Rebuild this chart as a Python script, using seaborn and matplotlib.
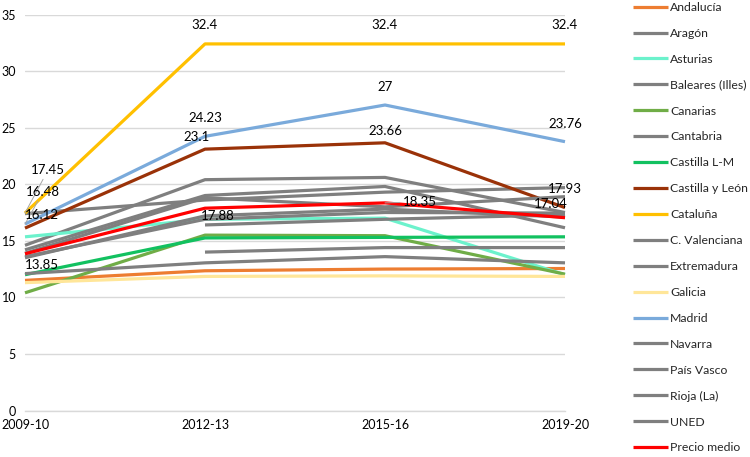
import numpy as np
import pandas as pd
import matplotlib
matplotlib.use("Agg")
import matplotlib.pyplot as plt
import seaborn as sns

periods = ["2009-10", "2012-13", "2015-16", "2019-20"]

andalucia = [11.5, 12.35, 12.5, 12.55]
aragon = [14.6, 20.4, 20.6, 17.5]
asturias = [15.35, 16.9, 17.0, 12.0]
baleares = [17.4, 18.6, 19.3, 19.7]
canarias = [10.4, 15.5, 15.45, 12.05]
cantabria = [14.2, 19.0, 19.8, 16.15]
castilla_lm = [12.0, 15.25, 15.3, 15.35]
castilla_leon = [16.12, 23.1, 23.66, 17.93]
cataluna = [17.45, 32.4, 32.4, 32.4]
c_valenciana = [13.9, 18.8, 18.0, 18.9]
extremadura = [12.1, 13.05, 13.6, 13.05]
galicia = [11.3, 11.85, 11.9, 11.85]
madrid = [16.48, 24.23, 27.0, 23.76]
navarra = [13.5, 17.2, 17.8, 17.1]
pais_vasco = [np.nan, 16.4, 16.9, 17.3]
rioja = [np.nan, 14.0, 14.4, 14.4]
uned = [13.6, 16.9, 17.5, 17.45]
precio_medio = [13.85, 17.88, 18.35, 17.04]

names = ["Andalucía", "Aragón", "Asturias", "Baleares (Illes)", "Canarias",
         "Cantabria", "Castilla L-M", "Castilla y León", "Cataluña",
         "C. Valenciana", "Extremadura", "Galicia", "Madrid", "Navarra",
         "País Vasco", "Rioja (La)", "UNED", "Precio medio"]
series = [andalucia, aragon, asturias, baleares, canarias, cantabria,
          castilla_lm, castilla_leon, cataluna, c_valenciana, extremadura,
          galicia, madrid, navarra, pais_vasco, rioja, uned, precio_medio]

GRAY = "#7f7f7f"
colors = ["#ED7D31", GRAY, "#6CF2CC", GRAY, "#70AD47", GRAY, "#12C160",
          "#9A3208", "#FFC000", GRAY, GRAY, "#FFE699", "#7AAADB", GRAY,
          GRAY, GRAY, GRAY, "#FF0000"]
palette = dict(zip(names, colors))

rows = []
for n, vals in zip(names, series):
    for i, v in enumerate(vals):
        rows.append({"region": n, "x": i, "periodo": periods[i], "valor": v})
df = pd.DataFrame(rows).dropna()

sns.set_theme(style="white")
plt.rcParams["font.family"] = ["Lato", "DejaVu Sans"]

fig = plt.figure(figsize=(7.5, 4.57), dpi=100)
ax = fig.add_axes([25/750, 1-410.5/457, 540/750, 396/457])

sns.lineplot(data=df, x="x", y="valor", hue="region", hue_order=names,
             palette=palette, estimator=None, sort=True, linewidth=2.3,
             ax=ax, legend=True)
for ln in ax.lines:
    ln.set_clip_on(False)
    ln.set_solid_capstyle("butt")

ax.set_xlim(0, 3)
ax.set_ylim(0, 35)
ax.set_yticks(range(0, 36, 5))
ax.set_xticks(range(4))
ax.set_xticklabels(periods)
ax.set_xticks([0.5, 1.5, 2.5], minor=True)
ax.set_xlabel("")
ax.set_ylabel("")
ax.yaxis.grid(True, color="#d9d9d9", linewidth=1.0)
ax.set_axisbelow(True)
for s in ["top", "right", "left"]:
    ax.spines[s].set_visible(False)
ax.spines["bottom"].set_color("#d9d9d9")
ax.spines["bottom"].set_linewidth(1.0)
ax.tick_params(axis="y", length=0, pad=6.5, labelsize=9, labelcolor="#000000")
ax.tick_params(axis="x", which="both", length=4, color="#d9d9d9", width=1,
               direction="out", pad=2, labelsize=9, labelcolor="#000000")

handles, labels = ax.get_legend_handles_labels()
ax.get_legend().remove()
leg = fig.legend(handles, labels, loc="upper left",
                 bbox_to_anchor=(628/750, 1.0 + 3/457), frameon=False,
                 fontsize=8.8, labelspacing=1.22, handlelength=2.85,
                 handletextpad=0.2, borderaxespad=0)
for h in leg.legend_handles:
    h.set_linewidth(2.3)

lab_kw = dict(textcoords="offset pixels", fontsize=9.5, ha="center",
              va="center", color="#000000")
lead = dict(arrowstyle="-", color="#a6a6a6", lw=0.7, shrinkA=0, shrinkB=0)

# Cataluña
ax.annotate(f"{cataluna[0]:g}", (0, cataluna[0]), xytext=(23, 43),
            arrowprops=lead, **lab_kw)
for i in (1, 2, 3):
    ax.annotate(f"{cataluna[i]:g}", (i, cataluna[i]), xytext=(0, 19), **lab_kw)
# Madrid
ax.annotate(f"{madrid[0]:g}", (0, madrid[0]), xytext=(18, 32),
            arrowprops=lead, **lab_kw)
for i in (1, 2, 3):
    ax.annotate(f"{madrid[i]:g}", (i, madrid[i]), xytext=(0, 18), **lab_kw)
# Castilla y León
ax.annotate(f"{castilla_leon[0]:g}", (0, castilla_leon[0]), xytext=(17, 13),
            **lab_kw)
ax.annotate(f"{castilla_leon[1]:g}", (1, castilla_leon[1]), xytext=(-8, 12), **lab_kw)
ax.annotate(f"{castilla_leon[2]:g}", (2, castilla_leon[2]), xytext=(0, 12), **lab_kw)
ax.annotate(f"{castilla_leon[3]:g}", (3, castilla_leon[3]), xytext=(0, 19), **lab_kw)
# Precio medio
ax.annotate(f"{precio_medio[0]:g}", (0, precio_medio[0]), xytext=(17, -11), **lab_kw)
ax.annotate(f"{precio_medio[1]:g}", (1, precio_medio[1]), xytext=(13, -8), **lab_kw)
ax.annotate(f"{precio_medio[2]:g}", (2, precio_medio[2]), xytext=(35, 1),
            arrowprops=dict(lead, shrinkA=14), **lab_kw)
ax.annotate(f"{precio_medio[3]:g}", (3, precio_medio[3]), xytext=(-14, 14), **lab_kw)

fig.savefig("out.png", dpi=100)
